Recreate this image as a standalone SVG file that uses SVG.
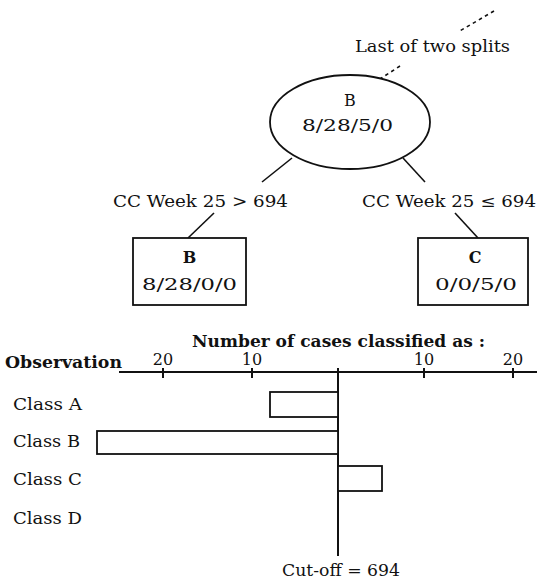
<svg xmlns="http://www.w3.org/2000/svg" width="537" height="583" viewBox="0 0 537 583">
  <style>
    text { font-family: "DejaVu Serif", "Liberation Serif", serif; font-size: 16px; fill: #111; }
    .b { font-weight: bold; }
    .node { fill: #fff; stroke: #111; stroke-width: 1.8; }
    .edge { stroke: #111; stroke-width: 1.6; fill: none; }
    .dash { stroke: #111; stroke-width: 1.6; fill: none; stroke-dasharray: 3.5 3.5; }
    .axis { stroke: #111; stroke-width: 2; fill: none; }
    .bar { fill: #fff; stroke: #111; stroke-width: 1.8; }
  </style>

  <!-- connectors -->
  <g id="connectors">
    <line class="dash" x1="494" y1="11" x2="458" y2="32"/>
    <line class="dash" x1="400" y1="66" x2="380" y2="79"/>
    <line class="edge" x1="292" y1="158" x2="262" y2="182"/>
    <line class="edge" x1="403" y1="158" x2="425" y2="182"/>
    <line class="edge" x1="214" y1="213" x2="188" y2="238"/>
    <line class="edge" x1="455" y1="213" x2="478" y2="238"/>
  </g>

  <g id="note">
    <text x="355" y="52" textLength="155" lengthAdjust="spacingAndGlyphs">Last of two splits</text>
  </g>

  <g id="root">
    <ellipse class="node" cx="350" cy="122" rx="80" ry="47"/>
    <text x="350" y="106" text-anchor="middle">B</text>
    <text x="302" y="131" textLength="91" lengthAdjust="spacingAndGlyphs">8/28/5/0</text>
  </g>

  <g id="split-left">
    <text x="113" y="207" textLength="175" lengthAdjust="spacingAndGlyphs">CC Week 25 &gt; 694</text>
  </g>
  <g id="split-right">
    <text x="362" y="207" textLength="174" lengthAdjust="spacingAndGlyphs">CC Week 25 ≤ 694</text>
  </g>

  <g id="leaf-b">
    <rect class="node" x="133" y="238" width="113" height="67"/>
    <text class="b" x="189.5" y="263" text-anchor="middle">B</text>
    <text x="142" y="290" textLength="95" lengthAdjust="spacingAndGlyphs">8/28/0/0</text>
  </g>

  <g id="leaf-c">
    <rect class="node" x="418" y="238" width="110" height="67"/>
    <text class="b" x="475" y="263" text-anchor="middle">C</text>
    <text x="435" y="290" textLength="82" lengthAdjust="spacingAndGlyphs">0/0/5/0</text>
  </g>

  <!-- classification chart -->
  <g id="chart">
    <text class="b" x="192" y="347" textLength="293" lengthAdjust="spacingAndGlyphs">Number of cases classified as :</text>
    <text class="b" x="5" y="368" textLength="117" lengthAdjust="spacingAndGlyphs">Observation</text>

    <line class="axis" x1="119" y1="372" x2="537" y2="372"/>
    <line class="axis" x1="338" y1="368" x2="338" y2="556"/>
    <g class="axis">
      <line x1="163" y1="368" x2="163" y2="378"/>
      <line x1="252" y1="368" x2="252" y2="378"/>
      <line x1="424" y1="368" x2="424" y2="378"/>
      <line x1="513" y1="368" x2="513" y2="378"/>
    </g>
    <g text-anchor="middle">
      <text x="163" y="365">20</text>
      <text x="252" y="365">10</text>
      <text x="424" y="365">10</text>
      <text x="513" y="365">20</text>
    </g>

    <rect class="bar" x="270" y="392" width="68" height="25"/>
    <rect class="bar" x="97" y="431" width="241" height="23"/>
    <rect class="bar" x="338" y="466" width="44" height="25"/>

    <text x="13" y="410" textLength="69" lengthAdjust="spacingAndGlyphs">Class A</text>
    <text x="13" y="447" textLength="67" lengthAdjust="spacingAndGlyphs">Class B</text>
    <text x="13" y="485" textLength="69" lengthAdjust="spacingAndGlyphs">Class C</text>
    <text x="13" y="524" textLength="69" lengthAdjust="spacingAndGlyphs">Class D</text>

    <text x="282" y="576" textLength="118" lengthAdjust="spacingAndGlyphs">Cut-off = 694</text>
  </g>
</svg>
